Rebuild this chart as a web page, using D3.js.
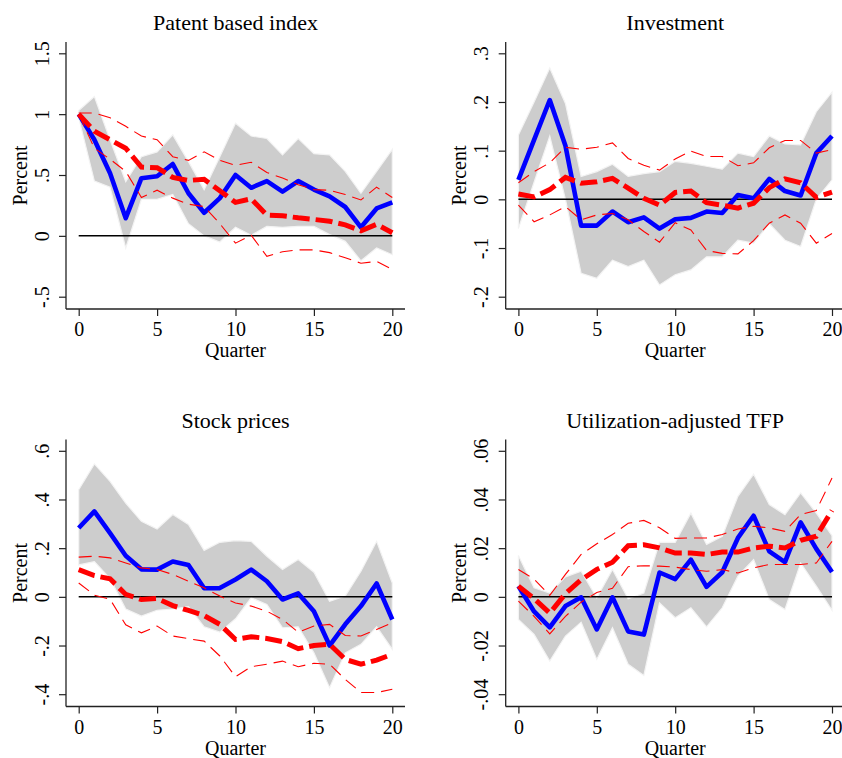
<!DOCTYPE html>
<html>
<head>
<meta charset="utf-8">
<script src="https://cdn.jsdelivr.net/npm/d3@7"></script>
<style>
  body { margin: 0; background: #fff; }
  svg { display: block; }
</style>
</head>
<body>
<svg id="chart" width="842" height="758"></svg>
<script>
// Horizon in quarters
const quarters = [0, 1, 2, 3, 4, 5, 6, 7, 8, 9, 10, 11, 12, 13, 14, 15, 16, 17, 18, 19, 20];
const xTicks = [0, 5, 10, 15, 20];
const xLabels = ["0", "5", "10", "15", "20"];

// Patent based index
const patentIRF   = [1.0, 0.79, 0.515, 0.145, 0.474, 0.49, 0.59, 0.35, 0.19, 0.31, 0.50, 0.395, 0.45, 0.364, 0.45, 0.38, 0.325, 0.237, 0.07, 0.225, 0.275];
const patentHi    = [1.03, 1.145, 0.79, 0.445, 0.65, 0.69, 0.83, 0.61, 0.38, 0.65, 0.925, 0.82, 0.80, 0.665, 0.80, 0.675, 0.665, 0.53, 0.35, 0.53, 0.71];
const patentLo    = [0.97, 0.45, 0.40, -0.10, 0.30, 0.30, 0.34, 0.10, 0.0, -0.05, 0.07, 0.005, 0.078, 0.07, 0.078, 0.078, 0.01, -0.045, -0.205, -0.10, -0.155];
const patentAlt   = [1.0, 0.86, 0.79, 0.72, 0.565, 0.56, 0.48, 0.455, 0.465, 0.37, 0.275, 0.305, 0.17, 0.165, 0.148, 0.135, 0.12, 0.09, 0.042, 0.095, 0.025];
const patentAltHi = [1.01, 1.01, 0.97, 0.90, 0.82, 0.79, 0.65, 0.62, 0.69, 0.62, 0.58, 0.605, 0.52, 0.475, 0.42, 0.38, 0.375, 0.34, 0.295, 0.40, 0.315];
const patentAltLo = [1.0, 0.72, 0.63, 0.53, 0.315, 0.375, 0.31, 0.26, 0.24, 0.10, -0.06, 0.005, -0.168, -0.13, -0.115, -0.115, -0.138, -0.18, -0.225, -0.21, -0.275];
const patentTicks  = [-0.5, 0, 0.5, 1, 1.5];
const patentLabels = ["-.5", "0", ".5", "1", "1.5"];

// Investment
const invIRF   = [0.04, 0.122, 0.204, 0.11, -0.054, -0.054, -0.025, -0.047, -0.037, -0.06, -0.041, -0.038, -0.025, -0.028, 0.009, 0.002, 0.042, 0.017, 0.008, 0.095, 0.13];
const invHi    = [0.132, 0.20, 0.27, 0.197, 0.047, 0.057, 0.072, 0.047, 0.053, 0.057, 0.078, 0.074, 0.068, 0.062, 0.095, 0.088, 0.13, 0.114, 0.112, 0.18, 0.22];
const invLo    = [-0.06, 0.035, 0.13, 0.0, -0.152, -0.162, -0.125, -0.138, -0.125, -0.176, -0.155, -0.145, -0.118, -0.118, -0.084, -0.09, -0.05, -0.084, -0.097, 0.0, 0.04];
const invAlt   = [0.011, 0.005, 0.02, 0.045, 0.033, 0.036, 0.043, 0.023, 0.002, -0.012, 0.014, 0.017, -0.007, -0.012, -0.018, -0.008, 0.024, 0.042, 0.034, 0.004, 0.015];
const invAltHi = [0.034, 0.057, 0.075, 0.107, 0.103, 0.107, 0.116, 0.084, 0.07, 0.06, 0.083, 0.099, 0.088, 0.088, 0.069, 0.075, 0.106, 0.121, 0.121, 0.095, 0.102];
const invAltLo = [-0.012, -0.046, -0.032, -0.015, -0.042, -0.032, -0.029, -0.042, -0.066, -0.088, -0.048, -0.063, -0.105, -0.111, -0.112, -0.085, -0.049, -0.032, -0.049, -0.09, -0.07];
const invTicks  = [-0.2, -0.1, 0, 0.1, 0.2, 0.3];
const invLabels = ["-.2", "-.1", "0", ".1", ".2", ".3"];

// Stock prices
const stockIRF   = [0.283, 0.351, 0.262, 0.169, 0.113, 0.112, 0.145, 0.131, 0.035, 0.036, 0.071, 0.112, 0.064, -0.011, 0.014, -0.059, -0.2, -0.113, -0.038, 0.055, -0.093];
const stockHi    = [0.44, 0.546, 0.474, 0.385, 0.31, 0.279, 0.338, 0.297, 0.191, 0.224, 0.231, 0.228, 0.167, 0.112, 0.153, 0.101, -0.018, 0.003, 0.105, 0.228, 0.057];
const stockLo    = [0.131, 0.145, 0.075, -0.05, -0.079, -0.055, -0.05, -0.04, -0.123, -0.145, -0.09, -0.004, -0.031, -0.127, -0.123, -0.23, -0.373, -0.23, -0.195, -0.123, -0.216];
const stockAlt   = [0.112, 0.087, 0.074, 0.01, -0.011, -0.007, -0.036, -0.056, -0.077, -0.113, -0.175, -0.164, -0.171, -0.184, -0.213, -0.2, -0.195, -0.257, -0.277, -0.26, -0.236];
const stockAltHi = [0.163, 0.167, 0.16, 0.139, 0.119, 0.112, 0.092, 0.064, 0.037, 0.003, -0.025, -0.038, -0.059, -0.093, -0.145, -0.12, -0.113, -0.159, -0.161, -0.134, -0.107];
const stockAltLo = [0.057, 0.007, -0.01, -0.115, -0.148, -0.12, -0.161, -0.172, -0.182, -0.243, -0.328, -0.287, -0.277, -0.264, -0.287, -0.273, -0.277, -0.339, -0.393, -0.393, -0.38];
const stockTicks  = [-0.4, -0.2, 0, 0.2, 0.4, 0.6];
const stockLabels = ["-.4", "-.2", "0", ".2", ".4", ".6"];

// Utilization-adjusted TFP
const tfpIRF   = [0.0044, -0.006, -0.0125, -0.0038, -0.0002, -0.0134, -0.0002, -0.0142, -0.0155, 0.01, 0.0073, 0.0153, 0.0041, 0.0101, 0.0242, 0.0333, 0.0187, 0.0143, 0.0306, 0.0197, 0.0102];
const tfpHi    = [0.017, 0.0037, 0.0016, 0.0082, 0.0105, -0.0004, 0.0112, -0.0008, 0.0016, 0.0224, 0.0224, 0.0344, 0.0215, 0.0249, 0.0413, 0.0504, 0.0379, 0.0338, 0.0427, 0.0344, 0.0251];
const tfpLo    = [-0.0093, -0.0154, -0.0264, -0.0161, -0.0104, -0.0257, -0.0127, -0.0277, -0.0323, -0.0025, -0.0086, -0.0045, -0.0123, -0.0045, 0.0085, 0.0153, -0.0011, -0.0052, 0.0139, 0.0044, -0.0055];
const tfpAlt   = [0.0044, -0.0007, -0.0067, 0.0013, 0.007, 0.0113, 0.0142, 0.021, 0.0214, 0.0201, 0.018, 0.018, 0.0174, 0.0184, 0.0184, 0.0201, 0.0208, 0.0201, 0.0232, 0.0249, 0.0355];
const tfpAltHi = [0.0112, 0.0073, 0.0006, 0.0092, 0.0174, 0.0218, 0.0256, 0.0302, 0.0314, 0.0284, 0.024, 0.0242, 0.0242, 0.0256, 0.0279, 0.029, 0.0283, 0.0269, 0.0338, 0.0355, 0.0488];
const tfpAltLo = [-0.0018, -0.008, -0.0152, -0.008, -0.0022, 0.0018, 0.0035, 0.0124, 0.0128, 0.0126, 0.0122, 0.0112, 0.0105, 0.0112, 0.0098, 0.0119, 0.0133, 0.0133, 0.0133, 0.0139, 0.0228];
const tfpTicks  = [-0.04, -0.02, 0, 0.02, 0.04, 0.06];
const tfpLabels = ["-.04", "-.02", "0", ".02", ".04", ".06"];

const panels = [
  { title: "Patent based index", irf: patentIRF, hi: patentHi, lo: patentLo,
    alt: patentAlt, altHi: patentAltHi, altLo: patentAltLo, ticks: patentTicks, labels: patentLabels },
  { title: "Investment", irf: invIRF, hi: invHi, lo: invLo,
    alt: invAlt, altHi: invAltHi, altLo: invAltLo, ticks: invTicks, labels: invLabels },
  { title: "Stock prices", irf: stockIRF, hi: stockHi, lo: stockLo,
    alt: stockAlt, altHi: stockAltHi, altLo: stockAltLo, ticks: stockTicks, labels: stockLabels },
  { title: "Utilization-adjusted TFP", irf: tfpIRF, hi: tfpHi, lo: tfpLo,
    alt: tfpAlt, altHi: tfpAltHi, altLo: tfpAltLo, ticks: tfpTicks, labels: tfpLabels }
];

// Panel frame geometry (axis corner at top-left of each frame)
const origins = [[66, 42], [505.7, 42], [66, 439.5], [505.7, 439.5]];
const W = 339, H = 267;
const xRange = [12.7, 326.3];
const yRange = [254.7, 11.3];
const FONT = "'Liberation Serif', 'Times New Roman', serif";

const svg = d3.select("#chart");
svg.append("rect").attr("width", 842).attr("height", 758).attr("fill", "#fff");

panels.forEach((p, k) => {
  const g = svg.append("g").attr("transform", `translate(${origins[k][0]},${origins[k][1]})`);
  const x = d3.scaleLinear().domain([quarters[0], quarters[quarters.length - 1]]).range(xRange);
  const y = d3.scaleLinear().domain([p.ticks[0], p.ticks[p.ticks.length - 1]]).range(yRange);

  // confidence band
  const band = d3.area()
    .x((d, i) => x(quarters[i]))
    .y0(d => y(d[0]))
    .y1(d => y(d[1]));
  g.append("path")
    .datum(d3.zip(p.lo, p.hi))
    .attr("d", band)
    .attr("fill", "#cdcdcd")
    .attr("stroke", "#f3f3f3")
    .attr("stroke-width", 1.2);

  // zero reference
  g.append("line")
    .attr("x1", x(0)).attr("x2", x(20))
    .attr("y1", y(0)).attr("y2", y(0))
    .attr("stroke", "#000").attr("stroke-width", 1.5);

  const line = d3.line().x((d, i) => x(quarters[i])).y(d => y(d));

  // baseline response
  g.append("path").datum(p.irf).attr("d", line)
    .attr("fill", "none").attr("stroke", "#0000ff")
    .attr("stroke-width", 4.6).attr("stroke-linejoin", "round");

  // alternative response bounds
  [p.altHi, p.altLo].forEach(s => {
    g.append("path").datum(s).attr("d", line)
      .attr("fill", "none").attr("stroke", "#ff0000")
      .attr("stroke-width", 1.1).attr("stroke-dasharray", "13,7");
  });

  // alternative response
  g.append("path").datum(p.alt).attr("d", line)
    .attr("fill", "none").attr("stroke", "#ff0000")
    .attr("stroke-width", 5).attr("stroke-dasharray", "17,6");

  // y axis
  const ya = g.append("g")
    .call(d3.axisLeft(y).tickValues(p.ticks).tickFormat((d, i) => p.labels[i]).tickSize(7).tickSizeOuter(0))
    .attr("font-family", FONT).attr("font-size", 20);
  ya.select(".domain").remove();
  ya.selectAll(".tick line").attr("stroke", "#222").attr("stroke-width", 1.2);
  ya.selectAll(".tick text")
    .attr("x", null).attr("dy", null)
    .attr("transform", "translate(-17.5,0) rotate(-90)")
    .attr("text-anchor", "middle")
    .attr("fill", "#000");

  // x axis
  const xa = g.append("g")
    .attr("transform", `translate(0,${H})`)
    .call(d3.axisBottom(x).tickValues(xTicks).tickFormat((d, i) => xLabels[i]).tickSize(7).tickSizeOuter(0))
    .attr("font-family", FONT).attr("font-size", 20);
  xa.select(".domain").remove();
  xa.selectAll(".tick line").attr("stroke", "#222").attr("stroke-width", 1.2);
  xa.selectAll(".tick text").attr("y", 27).attr("dy", null).attr("fill", "#000");

  // axis lines
  g.append("line").attr("x1", 0).attr("x2", 0).attr("y1", 0).attr("y2", H)
    .attr("stroke", "#222").attr("stroke-width", 1.3);
  g.append("line").attr("x1", 0).attr("x2", W).attr("y1", H).attr("y2", H)
    .attr("stroke", "#222").attr("stroke-width", 1.3);

  // titles
  g.append("text").attr("x", W / 2).attr("y", -12)
    .attr("text-anchor", "middle").attr("font-family", FONT).attr("font-size", 22)
    .text(p.title);
  g.append("text").attr("x", W / 2).attr("y", H + 48)
    .attr("text-anchor", "middle").attr("font-family", FONT).attr("font-size", 20)
    .text("Quarter");
  g.append("text")
    .attr("transform", `translate(-39.3,${H / 2}) rotate(-90)`)
    .attr("text-anchor", "middle").attr("font-family", FONT).attr("font-size", 20)
    .text("Percent");
});
</script>
</body>
</html>
